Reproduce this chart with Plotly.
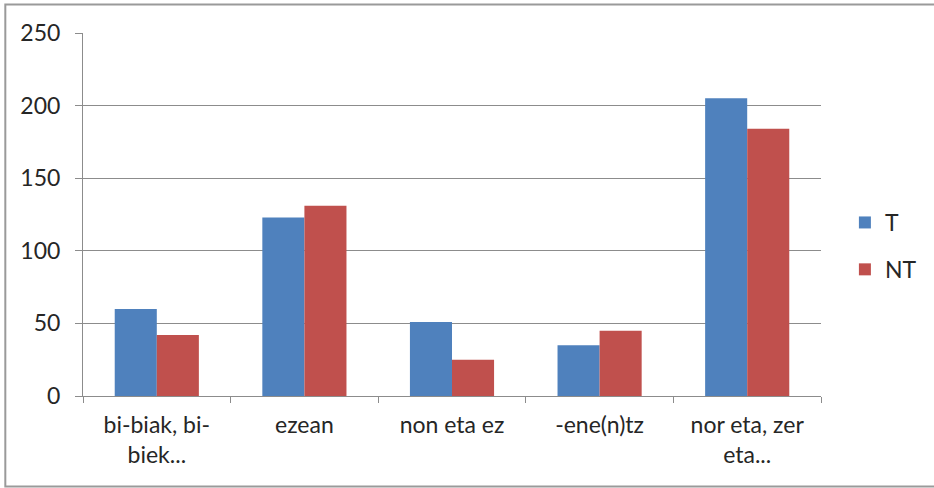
import plotly.graph_objects as go

# Chart data
categories = ["bi-biak, bi-<br>biek...", "ezean", "non eta ez", "-ene(n)tz", "nor eta, zer<br>eta..."]
t_values = [60, 123, 51, 35, 205]
nt_values = [42, 131, 25, 45, 184]
y_ticks = [0, 50, 100, 150, 200, 250]

BLUE = "#4F81BD"
RED = "#C0504D"
GRID = "#8C8C8C"
TEXT = "#262626"
FONT = "Lato"
FS = 23

W, H = 934, 488
L, R, T, B = 83, 110, 33, 92
pw, ph = W - L - R, H - T - B

fig = go.Figure()
fig.add_trace(go.Bar(name="T", x=categories, y=t_values, marker=dict(color=BLUE, line=dict(width=0)),
                     legendgroup="t"))
fig.add_trace(go.Bar(name="NT", x=categories, y=nt_values, marker=dict(color=RED, line=dict(width=0)),
                     legendgroup="nt"))


def px_x(x):
    return (x - L) / pw


def px_y(y):
    return (H - B - y) / ph


fig.update_layout(
    width=W, height=H,
    margin=dict(l=L, r=R, t=T, b=B),
    paper_bgcolor="white", plot_bgcolor="white",
    barmode="group", bargap=0.43, bargroupgap=0,
    font=dict(family=FONT, size=FS, color=TEXT),
    showlegend=True,
    legend=dict(x=px_x(848), xanchor="left", y=px_y(246), yanchor="middle",
                tracegroupgap=14, font=dict(size=FS, color=TEXT),
                itemwidth=30, bgcolor="rgba(0,0,0,0)"),
    xaxis=dict(type="category", showgrid=False, showline=True, linecolor=GRID, linewidth=1,
               ticks="outside", tickson="boundaries", ticklen=6, tickcolor=GRID,
               ticklabelstandoff=8, tickfont=dict(size=FS, color=TEXT)),
    yaxis=dict(range=[0, 250], tickvals=y_ticks, showgrid=True, gridcolor=GRID, gridwidth=1,
               showline=True, linecolor=GRID, linewidth=1, ticks="outside", ticklen=7,
               tickcolor=GRID, zeroline=False, ticklabelstandoff=10,
               tickfont=dict(size=FS, color=TEXT)),
    shapes=[
        # outer frame of the chart
        dict(type="rect", xref="paper", yref="paper",
             x0=px_x(5), x1=px_x(960), y0=px_y(486.5), y1=px_y(4.5),
             line=dict(color="#9A9A9A", width=2), fillcolor="rgba(0,0,0,0)", layer="below"),
    ],
)

fig.write_html("out.html")
